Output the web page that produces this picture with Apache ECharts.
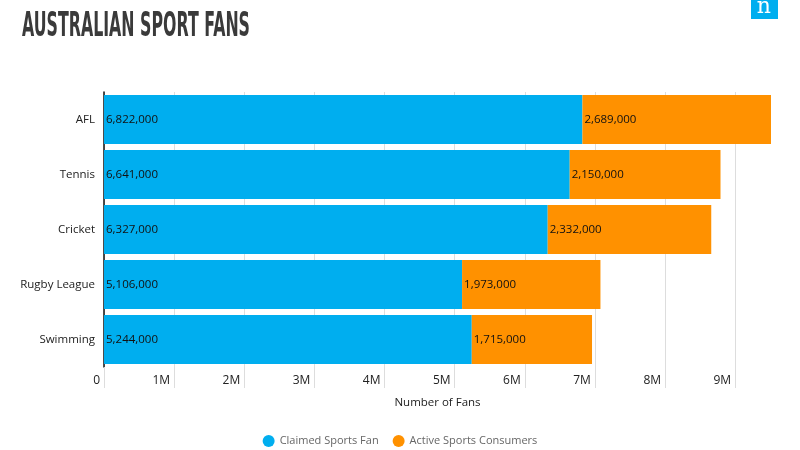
<!DOCTYPE html>
<html>
<head>
<meta charset="utf-8">
<script src="https://cdn.jsdelivr.net/npm/echarts@6/dist/echarts.min.js"></script>
<style>
  html, body { margin: 0; padding: 0; background: #fff; }
  #chart { width: 800px; height: 450px; }
</style>
</head>
<body>
<div id="chart"></div>
<script>
// sports, top to bottom
var sports = ['AFL', 'Tennis', 'Cricket', 'Rugby League', 'Swimming'];
var claimedFans = [6822000, 6641000, 6327000, 5106000, 5244000];
var activeConsumers = [2689000, 2150000, 2332000, 1973000, 1715000];
var xTicks = [0, 1000000, 2000000, 3000000, 4000000, 5000000, 6000000, 7000000, 8000000, 9000000];

var font = "'Open Sans', sans-serif";
var titleText = 'AUSTRALIAN SPORT FANS';
var titleFont = 'bold 33px "DejaVu Sans", sans-serif';

// no condensed face installed, so squeeze the title to the width it has in the original
var cv = document.createElement('canvas').getContext('2d');
cv.font = titleFont;
var titleScale = 228 / cv.measureText(titleText).width;

var dom = document.getElementById('chart');
var myChart = echarts.init(dom);

function fmtNum(p) {
    return echarts.format.addCommas(p.value);
}

option = {
    backgroundColor: '#fff',
    animation: false,
    graphic: [{
        type: 'text',
        x: 22,
        y: 11,
        scaleX: titleScale,
        style: { text: titleText, fill: '#3a3a3a', font: titleFont }
    }, {
        type: 'rect',
        right: 22,
        top: 0,
        shape: { width: 27, height: 19 },
        style: { fill: '#00AEEF' }
    }, {
        type: 'text',
        right: 29,
        top: -4,
        style: { text: 'n', fill: '#fff', font: '22px "DejaVu Serif", serif' }
    }],
    legend: {
        top: 430,
        left: 'center',
        icon: 'circle',
        itemWidth: 12,
        itemHeight: 12,
        itemGap: 14,
        textStyle: { fontFamily: font, fontSize: 11, color: '#666' },
        data: ['Claimed Sports Fan', 'Active Sports Consumers']
    },
    grid: {
        left: 104,
        right: 29,
        top: 92,
        bottom: 83
    },
    xAxis: {
        type: 'value',
        min: 0,
        max: 'dataMax',
        interval: 1000000,
        name: 'Number of Fans',
        nameLocation: 'middle',
        nameGap: 30,
        nameTextStyle: { fontFamily: font, fontSize: 11.5, color: '#222' },
        axisLine: { show: false },
        axisTick: {
            show: true,
            length: 21,
            customValues: xTicks,
            lineStyle: { color: '#ddd' }
        },
        splitLine: { show: true, lineStyle: { color: '#ddd' } },
        axisLabel: {
            customValues: xTicks,
            align: 'right',
            margin: 8,
            padding: [0, 4, 0, 0],
            fontFamily: font,
            fontSize: 12,
            color: '#222',
            formatter: function (v) {
                return v === 0 ? '0' : (v / 1000000) + 'M';
            }
        }
    },
    yAxis: {
        type: 'category',
        inverse: true,
        data: sports,
        axisLine: { show: true, lineStyle: { color: '#111', width: 1.5 } },
        axisTick: { show: false },
        axisLabel: { margin: 9, fontFamily: font, fontSize: 11.5, color: '#222' }
    },
    series: [{
        name: 'Claimed Sports Fan',
        type: 'bar',
        stack: 'fans',
        barWidth: 49,
        data: claimedFans,
        itemStyle: { color: '#00AEEF' },
        label: {
            show: true,
            position: 'insideLeft',
            distance: 2,
            fontFamily: font,
            fontSize: 11.5,
            color: '#111',
            formatter: fmtNum
        }
    }, {
        name: 'Active Sports Consumers',
        type: 'bar',
        stack: 'fans',
        barWidth: 49,
        data: activeConsumers,
        itemStyle: { color: '#FF9100' },
        label: {
            show: true,
            position: 'insideLeft',
            distance: 2,
            fontFamily: font,
            fontSize: 11.5,
            color: '#111',
            formatter: fmtNum
        }
    }]
};
if (option && typeof option === "object") {
    myChart.setOption(option, true);
}
</script>
</body>
</html>
